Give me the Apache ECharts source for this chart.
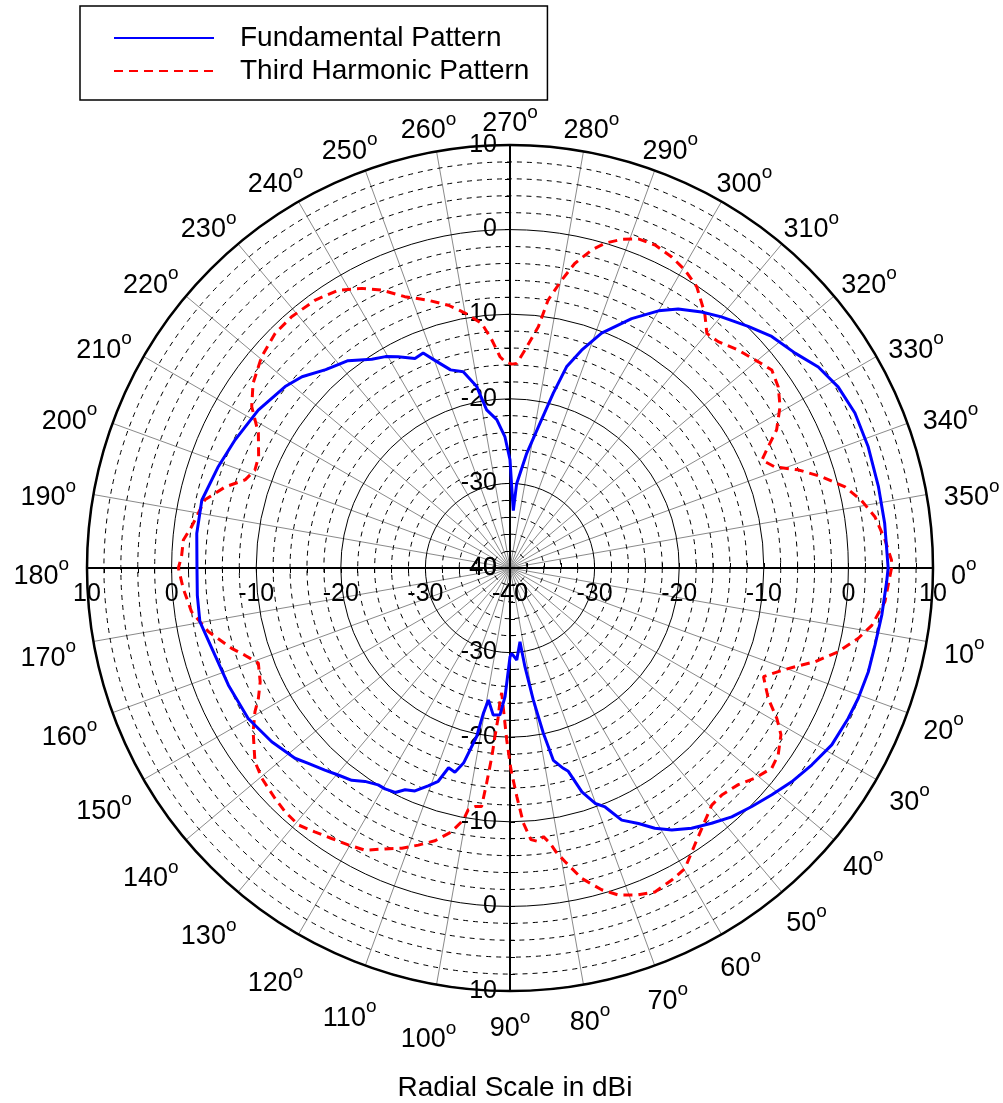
<!DOCTYPE html>
<html>
<head>
<meta charset="utf-8">
<title>Fundamental and third harmonic pattern</title>
<script src="https://cdn.jsdelivr.net/npm/echarts@6/dist/echarts.min.js"></script>
<style>
  html, body { margin: 0; padding: 0; background: #fff; }
  #chart { width: 1003px; height: 1103px; }
</style>
</head>
<body>
<div id="chart"></div>
<script>
// measured pattern, angle in degrees (clockwise from 0 at right), gain in dBi
var fundAngle = [0, 2.1, 7.2, 11.9, 16.1, 20.5, 24, 28.8, 33.1, 37.2,
    40.9, 44.6, 48.3, 51.7, 55.1, 58.3, 60.9, 63.3, 66.1, 68.3,
    70.1, 72.2, 74, 75.1, 77.3, 78.6, 80, 81.4, 82.3, 85.8,
    88.9, 90, 92.2, 93.9, 96.5, 99.3, 100.4, 101.2, 103.4, 105.1,
    107.1, 108.6, 110.6, 113.1, 115.3, 117.1, 119.5, 121.3, 124.2, 126.7,
    129.7, 132.5, 135.9, 138.5, 143.9, 150.1, 157.4, 164.9, 170.2, 175,
    180, 186.3, 192.4, 199.2, 205, 212.1, 218.9, 222.6, 227.1, 232,
    236.5, 239.5, 242.1, 245.6, 248, 250.1, 253.3, 256.6, 259.6, 261.6,
    264.9, 267.8, 270, 271.2, 273.3, 274.5, 278.3, 281.7, 283.9, 285.7,
    288.2, 291.3, 296, 300, 303, 306.8, 310.1, 314.6, 318.5, 323,
    326.9, 331.1, 335.8, 341.3, 347.5, 353.2, 360];
var fundGain = [4.7, 4.55, 4.3, 4.1, 4.1, 3.95, 3.75, 3.4, 2.6, 1.8,
    0.95, 0.15, -0.6, -1.55, -2.5, -3.6, -4.8, -6.2, -7.4, -9.6,
    -10.4, -12.2, -15.0, -15.5, -16.7, -20.1, -24.2, -28.2, -31.2, -29.1,
    -29.9, -29.5, -24.8, -22.6, -22.5, -24.2, -22.5, -19.7, -16.3, -15.0,
    -15.3, -13.4, -12.5, -11.35, -11.0, -10.2, -10.0, -10.0, -9.5, -8.7,
    -8.2, -7.6, -6.8, -6.06, -5.14, -4.3, -3.95, -3.5, -2.8, -2.9,
    -3.0, -2.75, -2.7, -3.5, -4.15, -4.87, -5.85, -6.6, -8.0, -8.9,
    -10.4, -11.0, -11.75, -12.8, -12.6, -13.9, -15.55, -16.15, -18.2, -21.1,
    -22.4, -24.5, -27.2, -30.4, -33.2, -30.0, -26.3, -22.5, -18.7, -15.3,
    -12.9, -10.2, -7.2, -4.9, -3.5, -2.2, -1.2, 0.1, 1.3, 2.2,
    3.5, 4.3, 4.7, 4.7, 4.6, 4.6, 4.7];

var harmAngle = [0, 5.1, 9, 11.4, 14.3, 17.1, 19.1, 21.1, 23.2, 26.8,
    29.4, 31.6, 34.9, 37.4, 40.6, 43.5, 47, 49.6, 52.5, 56.3,
    59.8, 62.6, 65.9, 68.6, 71.7, 74.1, 77, 79.4, 80.8, 81.7,
    82.9, 84.1, 85.6, 87, 88.3, 89.7, 91.1, 93.8, 94.3, 94.5,
    95.1, 95.5, 96.2, 96.8, 98.3, 99.8, 100.5, 102.6, 105.4, 108.3,
    111.1, 114, 117.2, 120.3, 123.4, 126.5, 129.5, 132.7, 135.6, 139.7,
    142.8, 147.5, 150.6, 152.6, 155.5, 159.3, 161.8, 163.9, 168.1, 172.2,
    176.4, 180, 182, 184.9, 187.4, 192.6, 195.9, 198.4, 201, 203.9,
    208.2, 212, 215.7, 220.4, 225, 229, 234, 238.3, 242.1, 245.2,
    248.8, 253, 256.8, 260, 263.4, 265.4, 267.3, 268.6, 270.5, 271.9,
    273.9, 276.7, 278.1, 280.2, 282, 284.4, 286.3, 288.8, 291.3, 294.2,
    297.4, 300.4, 303.6, 307.4, 310, 312.6, 316.3, 320.3, 322.9, 326,
    329.1, 332.6, 334.8, 336.8, 339.1, 341.2, 343.7, 346.4, 349.1, 352,
    355.7, 358.8, 360];
var harmGain = [5.1, 4.5, 3.3, 2.0, 0.05, -2.3, -4.35, -6.0, -7.4, -5.8,
    -3.8, -2.4, -1.35, -1.05, -1.85, -2.8, -3.3, -3.2, -2.2, -0.65,
    1.1, 1.55, 1.95, 1.5, 0.7, -0.45, -2.35, -4.7, -6.0, -7.1,
    -8.0, -7.5, -7.8, -9.8, -13.0, -16.1, -19.7, -25.2, -24.3, -22.4,
    -20.0, -17.6, -14.4, -11.6, -11.5, -11.0, -9.7, -8.0, -6.55, -5.5,
    -4.5, -3.65, -2.5, -2.1, -1.7, -1.2, -0.65, -0.8, -1.1, -1.55,
    -2.15, -4.0, -5.4, -6.5, -7.55, -8.2, -7.0, -5.75, -3.55, -2.0,
    -1.3, -0.8, -1.15, -1.25, -2.05, -3.05, -5.0, -7.0, -7.7, -7.5,
    -6.25, -4.0, -2.6, -1.45, -0.75, -0.65, -0.85, -1.4, -2.6, -3.8,
    -5.6, -6.9, -8.1, -9.4, -10.9, -12.9, -15.0, -15.6, -15.9, -15.8,
    -14.2, -11.3, -8.0, -5.4, -3.2, -1.2, 0.0, 1.05, 1.75, 1.85,
    1.45, 0.85, -0.1, -2.1, -3.8, -3.65, -2.7, -1.85, -1.2, -1.75,
    -2.8, -4.5, -6.25, -7.6, -6.5, -4.0, -1.6, 0.75, 2.3, 3.55,
    4.45, 5.1, 5.1];

var seriesNames = ['Fundamental Pattern', 'Third Harmonic Pattern'];
var radialTicks = [-40, -30, -20, -10, 0, 10];
var angleTicks = [0, 10, 20, 30, 40, 50, 60, 70, 80, 90, 100, 110,
    120, 130, 140, 150, 160, 170, 180, 190, 200, 210, 220, 230,
    240, 250, 260, 270, 280, 290, 300, 310, 320, 330, 340, 350];
var axisTitle = 'Radial Scale in dBi';

var FONT = '"Liberation Sans", Arial, Helvetica, sans-serif';
var CX = 510, CY = 568, R = 423;
var DIGIT = 27, SUP = 19;          // angle label sizes (number, superscript "o")
var LABEL_GAP = 18, LABEL_DX = 0, LABEL_DY = 7, LABEL_H = 23, SUP_RAISE = 23;

// one polar system per half-axis so the radial scale is drawn in 4 directions
var starts = [0, 90, 180, 270];
var radLabel = [
    { margin: -14, align: 'center', verticalAlign: 'top' },
    { margin: 13, align: 'right', verticalAlign: 'middle' },
    { margin: 14, align: 'center', verticalAlign: 'top' },
    { margin: -13, align: 'right', verticalAlign: 'middle' }
];

function toPolar(angles, gains) {
    return angles.map(function (a, i) { return [gains[i], a]; });
}

// angle labels are anchored at the centre (margin -R) so every one is centred,
// then pushed out with padding so its nearest edge sits LABEL_GAP outside the rim
function angleLabelRich() {
    var rich = {};
    angleTicks.forEach(function (a) {
        var t = a * Math.PI / 180, c = Math.cos(t), s = Math.sin(t);
        var digits = String(a).length;
        var w = digits * 0.556 * DIGIT + 0.556 * SUP;
        var x = (R + LABEL_GAP) * c + w / 2 * c + LABEL_DX;
        var y = (R + LABEL_GAP) * s + LABEL_H / 2 * s + LABEL_DY + 1.5;
        if (digits === 3 && s > 0) y += 18 * s;   // lower-left labels sit further down
        var pl = Math.max(0, 2 * x), pr = Math.max(0, -2 * x);
        var pt = Math.max(0, 2 * y), pb = Math.max(0, -2 * y);
        rich['n' + a] = { fontFamily: FONT, fontSize: DIGIT, lineHeight: 28, color: '#000',
            padding: [pt, 0, pb, pl] };
        rich['s' + a] = { fontFamily: FONT, fontSize: SUP, lineHeight: 10, color: '#000',
            padding: [pt, pr, pb + SUP_RAISE, 0] };
    });
    return rich;
}

var chart = echarts.init(document.getElementById('chart'));

chart.setOption({
    animation: false,
    backgroundColor: '#fff',
    textStyle: { fontFamily: FONT },
    title: {
        text: axisTitle,
        left: 510,
        top: 1069,
        textAlign: 'center',
        textStyle: { fontFamily: FONT, fontSize: 28, fontWeight: 'normal', color: '#000' }
    },
    legend: {
        orient: 'vertical',
        left: 80,
        top: 6,
        data: seriesNames,
        itemWidth: 100,
        itemHeight: 14,
        itemGap: 3,
        padding: [17, 18, 14, 33],
        borderColor: '#000',
        borderWidth: 1.5,
        backgroundColor: '#fff',
        selectedMode: false,
        itemStyle: { opacity: 0 },
        textStyle: { fontFamily: FONT, fontSize: 28, color: '#000', lineHeight: 30, padding: [0, 0, 0, 21] }
    },
    polar: starts.map(function () {
        return { center: [CX, CY], radius: R };
    }),
    angleAxis: starts.map(function (s, i) {
        return {
            polarIndex: i,
            type: 'value',
            min: 0,
            max: 360,
            interval: angleTicks[1] - angleTicks[0],
            startAngle: s,
            clockwise: true,
            show: i === 0,
            axisLine: { lineStyle: { color: '#000', width: 2.5 } },
            axisTick: { show: false },
            axisLabel: {
                margin: -R,
                formatter: function (v) {
                    return angleTicks.indexOf(v) < 0 ? '' : '{n' + v + '|' + v + '}{s' + v + '|o}';
                },
                rich: angleLabelRich()
            },
            splitLine: { show: i === 0, lineStyle: { color: '#8a8a8a', width: 1 } }
        };
    }),
    radiusAxis: starts.map(function (s, i) {
        return {
            polarIndex: i,
            type: 'value',
            min: radialTicks[0],
            max: radialTicks[radialTicks.length - 1],
            interval: radialTicks[1] - radialTicks[0],
            axisLine: { show: true, lineStyle: { color: '#000', width: 2 } },
            axisTick: { show: true, length: 5, lineStyle: { color: '#000' } },
            minorTick: { show: true, splitNumber: 5, length: 5, lineStyle: { color: '#000' } },
            axisLabel: {
                margin: radLabel[i].margin,
                align: radLabel[i].align,
                verticalAlign: radLabel[i].verticalAlign,
                fontFamily: FONT,
                fontSize: 25,
                color: '#000'
            },
            splitLine: { show: i === 0, lineStyle: { color: '#000', width: 1 } },
            minorSplitLine: { show: i === 0, lineStyle: { color: '#000', width: 1, type: [5, 5] } },
            z: 3
        };
    }),
    series: [
        {
            name: seriesNames[0],
            type: 'line',
            coordinateSystem: 'polar',
            polarIndex: 0,
            data: toPolar(fundAngle, fundGain),
            symbol: 'none',
            itemStyle: { color: '#0000ff' },
            lineStyle: { color: '#0000ff', width: 3 },
            z: 6
        },
        {
            name: seriesNames[1],
            type: 'line',
            coordinateSystem: 'polar',
            polarIndex: 0,
            data: toPolar(harmAngle, harmGain),
            symbol: 'none',
            itemStyle: { color: '#ff0000' },
            lineStyle: { color: '#ff0000', width: 3, type: [9, 6] },
            z: 5
        }
    ]
});
</script>
</body>
</html>
